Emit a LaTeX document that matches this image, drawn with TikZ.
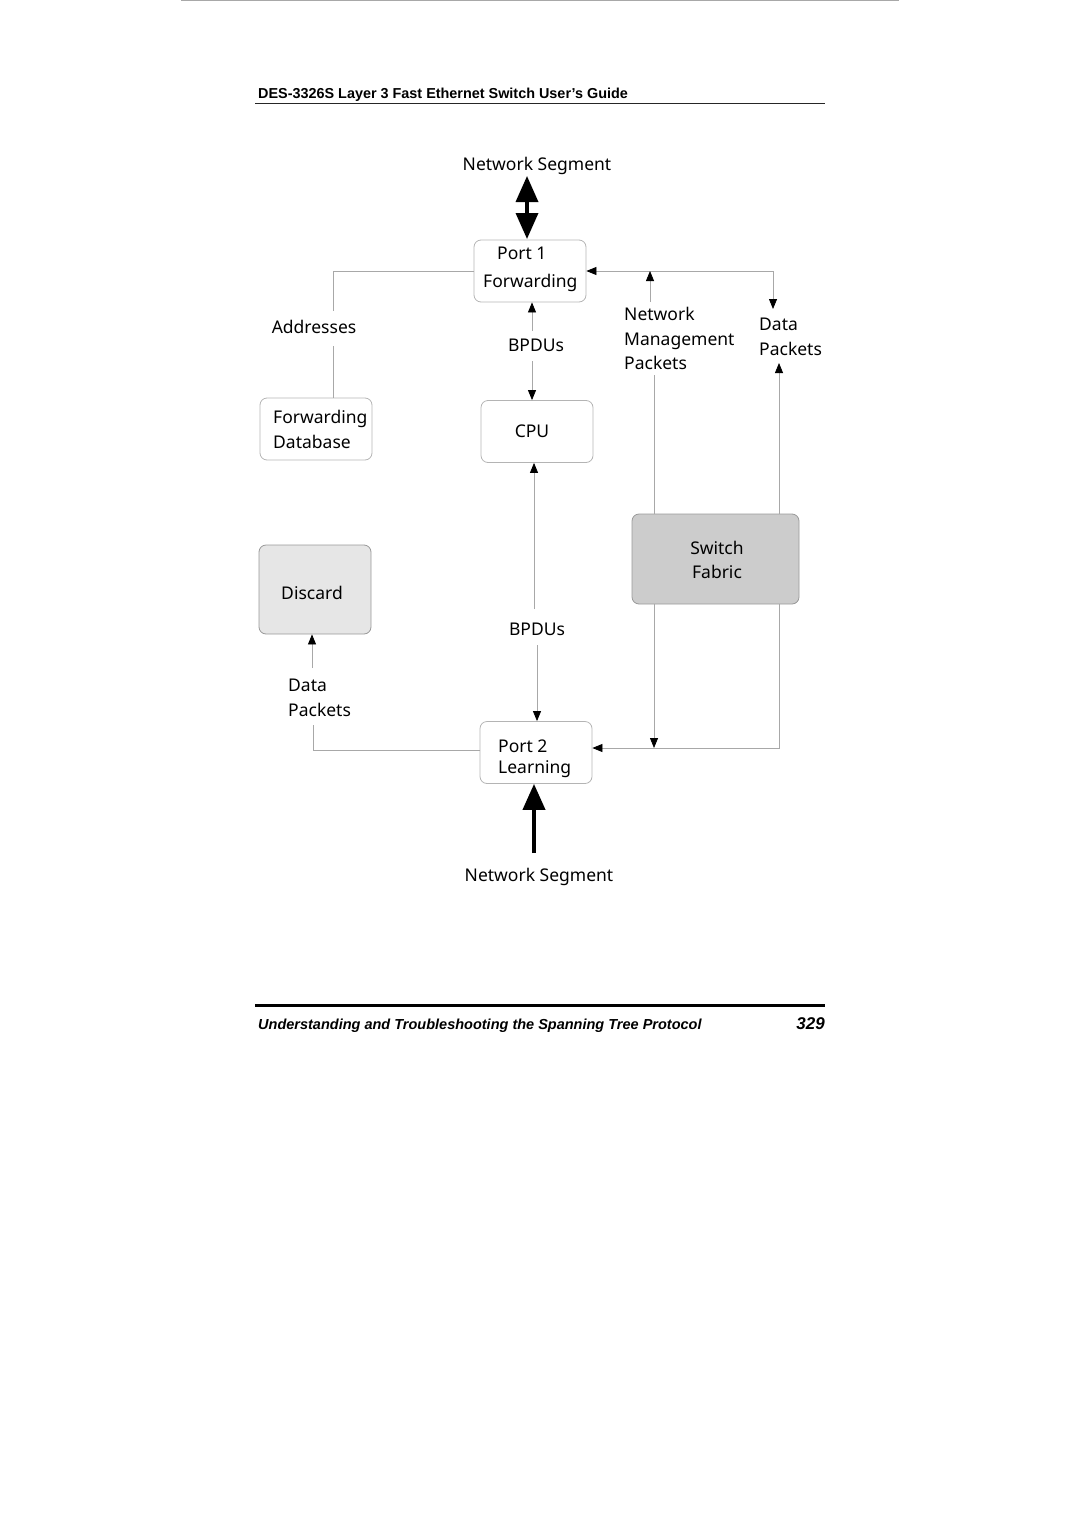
\documentclass[tikz,border=0pt]{standalone}
\usepackage{fontspec}
\setmainfont{Liberation Sans}
\newfontfamily\diagfont{Noto Sans}
\usetikzlibrary{arrows.meta}
\definecolor{linegray}{HTML}{A8A8A8}
\definecolor{boxgray}{HTML}{B4B4B4}
\definecolor{discardfill}{HTML}{E6E6E6}
\definecolor{fabricfill}{HTML}{CCCCCC}
\begin{document}
\begin{tikzpicture}[x=1pt,y=-1pt,
  box/.style={draw=boxgray, rounded corners=7pt, line width=0.8pt, minimum width=112pt, minimum height=62pt, inner sep=0pt},
  conn/.style={draw=linegray, line width=0.8pt},
  tip/.style={-{Triangle[length=10pt,width=8pt,color=black]}},
  bigtip/.style={-{Triangle[length=26pt,width=22pt,color=black]}},
  bigboth/.style={{Triangle[length=26pt,width=22pt,color=black]}-{Triangle[length=26pt,width=22pt,color=black]}},
  lbl/.style={font=\diagfont\fontsize{17.5}{24}\selectfont, align=left, inner sep=0pt},
  hdr/.style={font=\bfseries\fontsize{14.4}{17}\selectfont, inner sep=0pt, anchor=base west},
]
\useasboundingbox (0,0) rectangle (1080,1528);

% page rules and running texts
\coordinate (tl1) at (181,0.8);
\coordinate (tl2) at (899,0.8);
\draw[linegray, line width=1.3pt] (tl1) -- (tl2);
\node[hdr] (header) at (258,98) {DES-3326S Layer 3 Fast Ethernet Switch User’s Guide};
\coordinate (hr1) at (255,103.5);
\coordinate (hr2) at (825,103.5);
\draw[line width=1.4pt, black!85] (hr1) -- (hr2);
\coordinate (fr1) at (255,1005.5);
\coordinate (fr2) at (825,1005.5);
\draw[line width=2.8pt, black] (fr1) -- (fr2);
\node[hdr, font=\bfseries\itshape\fontsize{14.5}{17}\selectfont] (footer) at (258,1029) {Understanding and Troubleshooting the Spanning Tree Protocol};
\node[inner sep=0pt, anchor=base east, font=\bfseries\itshape\fontsize{17}{20}\selectfont] (pageno) at (825,1029) {329};

% boxes
\node[box] (p1) at (530,271) {};
\node[lbl, font=\diagfont\fontsize{17.5}{28}\selectfont, anchor=west] (p1t) at (483,269) {\hspace*{14pt}Port 1\\Forwarding};
\node[box] (fdb) at (316,429) {};
\node[lbl, font=\diagfont\fontsize{17.5}{25}\selectfont, anchor=west] (fdbt) at (273,429) {Forwarding\\Database};
\node[box] (cpu) at (537,431.5) {};
\node[lbl] (cput) at (532,431) {CPU};
\node[box, fill=discardfill, draw=black!40, minimum height=89pt] (disc) at (315,589.5) {};
\node[lbl] (disct) at (312,593) {Discard};
\node[box, fill=fabricfill, draw=black!40, minimum width=167pt, minimum height=90pt] (sf) at (715.5,559) {};
\node[lbl, align=center, font=\diagfont\fontsize{17.5}{24}\selectfont] (sft) at (717,560) {Switch\\Fabric};
\node[box] (p2) at (536,752.5) {};
\node[lbl, font=\diagfont\fontsize{17.5}{21}\selectfont, anchor=west] (p2t) at (498,759) {Port 2\\Learning};

% labels
\node[lbl] (nsTop) at (537,166) {Network Segment};
\node[lbl] (nsBot) at (539,877) {Network Segment};
\node[lbl] (addr) at (314,327) {Addresses};
\node[lbl] (bp1) at (536,345) {BPDUs};
\node[lbl] (bp2) at (537,629) {BPDUs};
\node[lbl, font=\diagfont\fontsize{17.5}{24.5}\selectfont, anchor=north west] (nmp) at (624,307) {Network\\Management\\Packets};
\node[lbl, font=\diagfont\fontsize{17.5}{24.5}\selectfont, anchor=north west] (dpR) at (759,318) {Data\\Packets};
\node[lbl, font=\diagfont\fontsize{17.5}{24.5}\selectfont, anchor=north west] (dpL) at (288,679) {Data\\Packets};

% thick network-segment arrows
\coordinate (ntA) at (527,176);
\coordinate (ntB) at (527,239);
\draw[bigboth, line width=3.5pt] (ntA) -- (ntB);
\coordinate (nbA) at (534,853);
\draw[bigtip, line width=4pt] (nbA) -- (p2.south -| nbA);

% addresses link
\coordinate (a1) at (333,311);
\coordinate (a2) at (333,346);
\draw[conn] (p1.west) -| (a1);
\draw[conn] (a2) -- (fdb.north -| a2);

% BPDUs port1 <-> cpu
\coordinate (b1) at (532,331);
\coordinate (b2) at (532,361);
\draw[conn, tip] (b1) -- (p1.south -| b1);
\draw[conn, tip] (b2) -- (cpu.north -| b2);

% BPDUs port2 -> cpu and -> port2
\coordinate (b3) at (534,609);
\coordinate (b4) at (537,645);
\draw[conn, tip] (b3) -- (cpu.south -| b3);
\draw[conn, tip] (b4) -- (p2.north -| b4);

% right side, top
\coordinate (r1) at (773,271);
\coordinate (r2) at (773,309);
\draw[conn, tip] (r1) -- (p1.east);
\draw[conn, tip] (r1) -- (r2);
\coordinate (m1) at (650,302);
\coordinate (m2) at (650,271);
\draw[conn, tip] (m1) -- (m2);
\coordinate (m3) at (654,375);
\draw[conn] (m3) -- (sf.north -| m3);
\coordinate (d1) at (779,363);
\draw[conn, tip] (sf.north -| d1) -- (d1);

% right side, bottom
\coordinate (s1) at (654,748);
\draw[conn, tip] (sf.south -| s1) -- (s1);
\coordinate (s2) at (779,748);
\draw[conn, tip] (sf.south -| s2) -- (s2) -- (p2.east |- s2);

% port2 -> discard
\coordinate (l1) at (313,725);
\coordinate (l2) at (312,668);
\coordinate (p2w) at (480,750);
\draw[conn] (p2w) -| (l1);
\draw[conn, tip] (l2) -- (disc.south -| l2);
\end{tikzpicture}
\end{document}
